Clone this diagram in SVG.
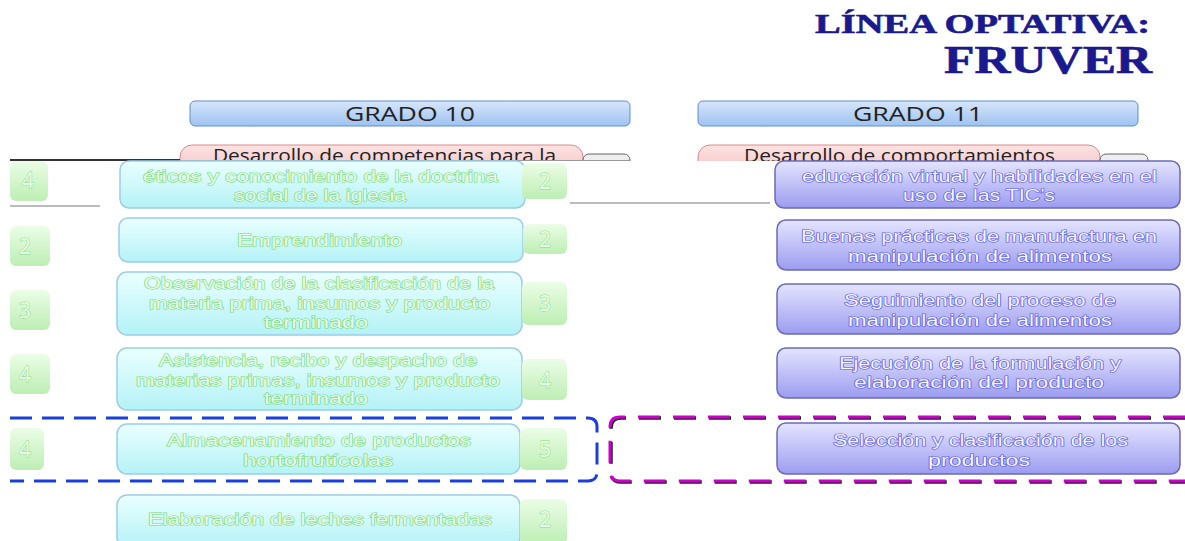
<svg xmlns="http://www.w3.org/2000/svg" width="1185" height="541" viewBox="0 0 1185 541">
<style>
.title{font-family:"Liberation Serif",serif;font-weight:bold;fill:#1a1a8e;stroke:#1a1a8e;stroke-width:0.6}
.hdr{font-family:"Open Sans","Liberation Sans",sans-serif;font-size:20px;fill:#222}
.pill{font-family:"Open Sans","Liberation Sans",sans-serif;font-size:18px;fill:#222}
.ct{font-family:"Liberation Sans",Arial,sans-serif;font-size:16px;fill:#eaffea;stroke:#74d874;stroke-width:1.1;paint-order:stroke}
.pt{font-family:"Liberation Sans",Arial,sans-serif;font-size:16px;fill:#f4f4ff;stroke:#5a5ae6;stroke-width:1.2;paint-order:stroke}
.num{font-family:"Open Sans","Liberation Sans",sans-serif;font-size:21px;fill:#eaffea;stroke:#86da86;stroke-width:1;paint-order:stroke;text-anchor:middle}
.cbox{fill:url(#gc);stroke:#9ccde6;stroke-width:1.5}
.pbox{fill:url(#gp);stroke:#6a6ab8;stroke-width:1.5}
.nbox{fill:url(#gn);stroke:none}
.hbox{fill:url(#gh);stroke:#5f8fcf;stroke-width:1}
</style>
<defs>
<linearGradient id="gc" x1="0" y1="0" x2="0" y2="1"><stop offset="0" stop-color="#eaffff"/><stop offset="1" stop-color="#b4f2f6"/></linearGradient>
<linearGradient id="gp" x1="0" y1="0" x2="0" y2="1"><stop offset="0" stop-color="#e4e4ff"/><stop offset="1" stop-color="#9c9cf0"/></linearGradient>
<linearGradient id="gn" x1="0" y1="0" x2="0" y2="1"><stop offset="0" stop-color="#ebfde6"/><stop offset="1" stop-color="#bdeeb4"/></linearGradient>
<linearGradient id="gh" x1="0" y1="0" x2="0" y2="1"><stop offset="0" stop-color="#d6e6fb"/><stop offset="1" stop-color="#9fc2f0"/></linearGradient>
<linearGradient id="gr" x1="0" y1="0" x2="0" y2="1"><stop offset="0" stop-color="#fde3e3"/><stop offset="1" stop-color="#f4c0c0"/></linearGradient>
<clipPath id="cut"><rect x="0" y="0" width="1185" height="161"/></clipPath>
</defs>
<rect width="1185" height="541" fill="#fff"/>

<g id="title">
<text class="title" x="815" y="33" font-size="28" textLength="335" lengthAdjust="spacingAndGlyphs">LÍNEA OPTATIVA:</text>
<text class="title" x="944" y="73" font-size="40" textLength="208" lengthAdjust="spacingAndGlyphs">FRUVER</text>
</g>

<g id="grado10">
<rect class="hbox" x="190" y="101" width="440" height="25" rx="5"/>
<text class="hdr" x="345" y="121" textLength="130" lengthAdjust="spacingAndGlyphs">GRADO 10</text>
</g>
<g id="grado11">
<rect class="hbox" x="698" y="101" width="440" height="25" rx="5"/>
<text class="hdr" x="853" y="121" textLength="130" lengthAdjust="spacingAndGlyphs">GRADO 11</text>
</g>

<g id="pill10" clip-path="url(#cut)">
<rect x="180" y="145" width="403" height="30" rx="12" fill="url(#gr)" stroke="#d88" stroke-width="1"/>
<rect x="583" y="154" width="47" height="20" rx="6" fill="#eee" stroke="#666" stroke-width="1"/>
<text class="pill" x="213" y="162" textLength="343" lengthAdjust="spacingAndGlyphs">Desarrollo de competencias para la</text>
</g>
<g id="pill11" clip-path="url(#cut)">
<rect x="698" y="145" width="402" height="30" rx="12" fill="url(#gr)" stroke="#d88" stroke-width="1"/>
<rect x="1100" y="154" width="48" height="20" rx="6" fill="#eee" stroke="#666" stroke-width="1"/>
<text class="pill" x="744" y="162" textLength="311" lengthAdjust="spacingAndGlyphs">Desarrollo de comportamientos</text>
</g>
<g id="glitch">
<rect x="10" y="159" width="170" height="2" fill="#333"/>
<rect x="180" y="160" width="450" height="1" fill="#999"/>
<rect x="10" y="205" width="90" height="2" fill="#bbb"/>
<rect x="570" y="202" width="200" height="2" fill="#bbb"/>
</g>

<g id="l1">
<rect class="nbox" x="10" y="161" width="38" height="40" rx="6"/>
<text class="num" x="28" y="188">4</text>
<rect class="cbox" x="120" y="161" width="405" height="47" rx="9"/>
<text class="ct" x="143" y="182" textLength="355" lengthAdjust="spacingAndGlyphs">éticos y conocimiento de la doctrina</text>
<text class="ct" x="234" y="201" textLength="172" lengthAdjust="spacingAndGlyphs">social de la iglesia</text>
<rect class="nbox" x="522" y="163" width="45" height="36" rx="6"/>
<text class="num" x="545" y="189">2</text>
</g>

<g id="l2">
<rect class="nbox" x="10" y="226" width="40" height="40" rx="6"/>
<text class="num" x="25" y="254">2</text>
<rect class="cbox" x="119" y="218" width="404" height="44" rx="9"/>
<text class="ct" x="237" y="246" textLength="165" lengthAdjust="spacingAndGlyphs">Emprendimiento</text>
<rect class="nbox" x="523" y="224" width="44" height="30" rx="6"/>
<text class="num" x="545" y="247">2</text>
</g>

<g id="l3">
<rect class="nbox" x="10" y="290" width="40" height="40" rx="6"/>
<text class="num" x="25" y="318">3</text>
<rect class="cbox" x="117" y="272" width="405" height="63" rx="10"/>
<text class="ct" x="144" y="289" textLength="350" lengthAdjust="spacingAndGlyphs">Observación de la clasificación de la</text>
<text class="ct" x="149" y="309" textLength="341" lengthAdjust="spacingAndGlyphs">materia prima, insumos y producto</text>
<text class="ct" x="264" y="328" textLength="104" lengthAdjust="spacingAndGlyphs">terminado</text>
<rect class="nbox" x="522" y="282" width="45" height="43" rx="6"/>
<text class="num" x="545" y="311">3</text>
</g>

<g id="l4">
<rect class="nbox" x="10" y="354" width="40" height="40" rx="6"/>
<text class="num" x="25" y="382">4</text>
<rect class="cbox" x="117" y="348" width="405" height="62" rx="10"/>
<text class="ct" x="159" y="366" textLength="318" lengthAdjust="spacingAndGlyphs">Asistencia, recibo y despacho de</text>
<text class="ct" x="136" y="386" textLength="364" lengthAdjust="spacingAndGlyphs">materias primas, insumos y producto</text>
<text class="ct" x="264" y="404" textLength="104" lengthAdjust="spacingAndGlyphs">terminado</text>
<rect class="nbox" x="522" y="359" width="45" height="41" rx="6"/>
<text class="num" x="545" y="388">4</text>
</g>

<g id="l5">
<rect class="nbox" x="10" y="428" width="34" height="42" rx="6"/>
<text class="num" x="25" y="457">4</text>
<rect class="cbox" x="117" y="424" width="403" height="50" rx="10"/>
<text class="ct" x="167" y="446" textLength="304" lengthAdjust="spacingAndGlyphs">Almacenamiento de productos</text>
<text class="ct" x="243" y="466" textLength="150" lengthAdjust="spacingAndGlyphs">hortofrutícolas</text>
<rect class="nbox" x="520" y="428" width="47" height="42" rx="6"/>
<text class="num" x="545" y="457">5</text>
</g>

<g id="l6">
<rect class="cbox" x="117" y="495" width="403" height="52" rx="10"/>
<text class="ct" x="148" y="525" textLength="344" lengthAdjust="spacingAndGlyphs">Elaboración de leches fermentadas</text>
<rect class="nbox" x="520" y="499" width="47" height="45" rx="6"/>
<text class="num" x="545" y="527">2</text>
</g>

<g id="r1">
<rect class="pbox" x="775" y="161" width="405" height="47" rx="9"/>
<text class="pt" x="802" y="182" textLength="355" lengthAdjust="spacingAndGlyphs">educación virtual y habilidades en el</text>
<text class="pt" x="903" y="201" textLength="152" lengthAdjust="spacingAndGlyphs">uso de las TIC’s</text>
</g>
<g id="r2">
<rect class="pbox" x="777" y="220" width="403" height="50" rx="9"/>
<text class="pt" x="801" y="242" textLength="356" lengthAdjust="spacingAndGlyphs">Buenas prácticas de manufactura en</text>
<text class="pt" x="848" y="262" textLength="264" lengthAdjust="spacingAndGlyphs">manipulación de alimentos</text>
</g>
<g id="r3">
<rect class="pbox" x="777" y="284" width="403" height="50" rx="9"/>
<text class="pt" x="844" y="306" textLength="272" lengthAdjust="spacingAndGlyphs">Seguimiento del proceso de</text>
<text class="pt" x="848" y="326" textLength="264" lengthAdjust="spacingAndGlyphs">manipulación de alimentos</text>
</g>
<g id="r4">
<rect class="pbox" x="777" y="348" width="403" height="50" rx="9"/>
<text class="pt" x="839" y="369" textLength="282" lengthAdjust="spacingAndGlyphs">Ejecución de la formulación y</text>
<text class="pt" x="854" y="388" textLength="250" lengthAdjust="spacingAndGlyphs">elaboración del producto</text>
</g>
<g id="r5">
<rect class="pbox" x="777" y="423" width="403" height="51" rx="9"/>
<text class="pt" x="833" y="446" textLength="295" lengthAdjust="spacingAndGlyphs">Selección y clasificación de los</text>
<text class="pt" x="928" y="466" textLength="102" lengthAdjust="spacingAndGlyphs">productos</text>
</g>

<g id="connectors" fill="none">
<path d="M10 418 H588 Q597 418 597 427 V472 Q597 481 588 481 H10" stroke="#1a3ee0" stroke-width="3" stroke-dasharray="22 10"/>
<path d="M1185 417 H620 Q610 417 610 427 V471 Q610 481 620 481 H1185" stroke="#222" stroke-width="3.5" stroke-dasharray="22 13" transform="translate(1 1)"/>
<path d="M1185 417 H620 Q610 417 610 427 V471 Q610 481 620 481 H1185" stroke="#cc00cc" stroke-width="3" stroke-dasharray="22 13"/>
</g>
</svg>
